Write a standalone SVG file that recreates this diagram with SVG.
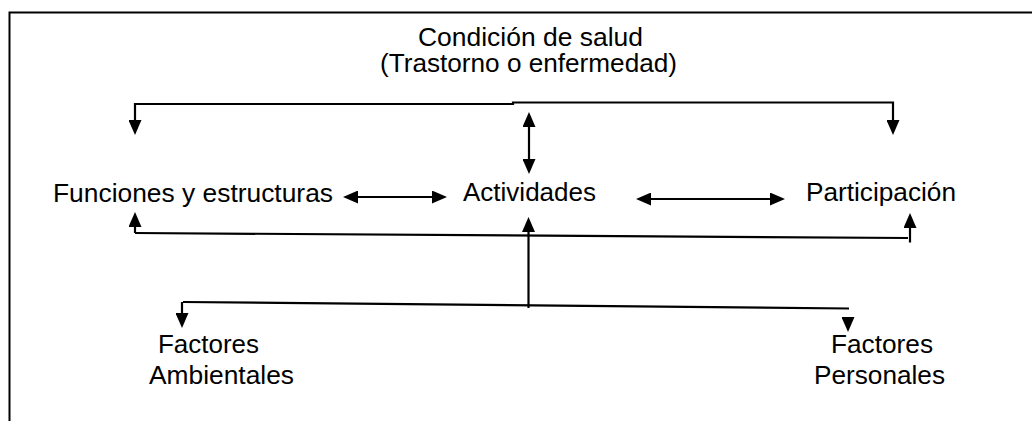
<svg xmlns="http://www.w3.org/2000/svg" width="1032" height="421" viewBox="0 0 1032 421">
<style>
.t{font-family:"Liberation Sans",Arial,sans-serif;font-size:25px;fill:#000}
.c{fill:none;stroke:#000;stroke-width:2.2}
.a{marker-end:url(#ah)}
.b{marker-start:url(#ah);marker-end:url(#ah)}
</style>
<defs>
<marker id="ah" markerUnits="userSpaceOnUse" markerWidth="15" markerHeight="13" refX="9" refY="6.5" orient="auto-start-reverse" viewBox="0 0 15 13">
<path d="M0,0 L15,6.5 L0,13 z" fill="#000"/>
</marker>
</defs>
<rect width="1032" height="421" fill="#fff"/>
<path d="M9.5,421 V12.5 H1032" fill="none" stroke="#000" stroke-width="2"/>
<g id="condicion"><text class="t" x="418" y="46" textLength="225" lengthAdjust="spacingAndGlyphs">Condición de salud</text><text class="t" x="380" y="72" textLength="297" lengthAdjust="spacingAndGlyphs">(Trastorno o enfermedad)</text></g>
<g id="funciones"><text class="t" x="53" y="202" textLength="280" lengthAdjust="spacingAndGlyphs">Funciones y estructuras</text></g>
<g id="actividades"><text class="t" x="463" y="201" textLength="133" lengthAdjust="spacingAndGlyphs">Actividades</text></g>
<g id="participacion"><text class="t" x="806" y="201" textLength="150" lengthAdjust="spacingAndGlyphs">Participación</text></g>
<g id="ambientales"><text class="t" x="158" y="353" textLength="101" lengthAdjust="spacingAndGlyphs">Factores</text><text class="t" x="149" y="384" textLength="145" lengthAdjust="spacingAndGlyphs">Ambientales</text></g>
<g id="personales"><text class="t" x="831" y="353" textLength="102" lengthAdjust="spacingAndGlyphs">Factores</text><text class="t" x="814" y="383.5" textLength="131" lengthAdjust="spacingAndGlyphs">Personales</text></g>
<g id="connectors">
<path class="c b" d="M135,129 V104 H513 V102.5 H893 V129"/>
<path class="c b" d="M529,118 V168"/>
<path class="c b" d="M349,197 H441"/>
<path class="c b" d="M642,199 H779"/>
<path class="c" d="M135,233 L908,238"/>
<path class="c a" d="M135,233 V218"/>
<path class="c a" d="M910,242.5 V219"/>
<path class="c a" d="M528.5,308 V223"/>
<path class="c" d="M183,302 L849,308.5"/>
<path class="c a" d="M182,302 V322"/>
<path class="c a" d="M848,318 V326"/>
</g>
</svg>
